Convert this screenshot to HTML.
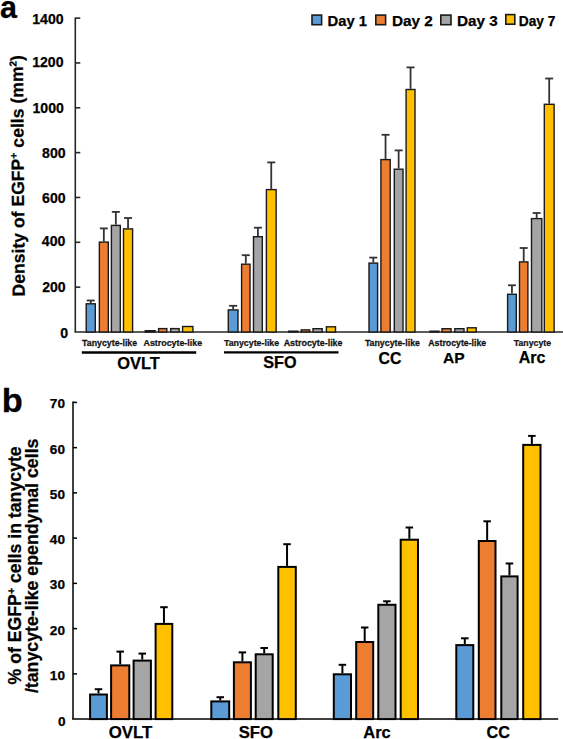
<!DOCTYPE html>
<html><head><meta charset="utf-8"><style>
html,body{margin:0;padding:0;background:#fff;}
body{width:563px;height:739px;overflow:hidden;}
svg{display:block;}
text{stroke:#000;stroke-width:0.25px;}
</style></head><body>
<svg width="563" height="739" viewBox="0 0 563 739" font-family="Liberation Sans, sans-serif">
<rect width="563" height="739" fill="#fff"/>
<line x1="75.3" y1="17.5" x2="75.3" y2="332.0" stroke="#262626" stroke-width="1.6"/>
<line x1="74.5" y1="332.0" x2="563" y2="332.0" stroke="#262626" stroke-width="1.6"/>
<line x1="75.3" y1="287.16" x2="80.3" y2="287.16" stroke="#262626" stroke-width="1.6"/>
<line x1="75.3" y1="242.31" x2="80.3" y2="242.31" stroke="#262626" stroke-width="1.6"/>
<line x1="75.3" y1="197.47" x2="80.3" y2="197.47" stroke="#262626" stroke-width="1.6"/>
<line x1="75.3" y1="152.63" x2="80.3" y2="152.63" stroke="#262626" stroke-width="1.6"/>
<line x1="75.3" y1="107.79" x2="80.3" y2="107.79" stroke="#262626" stroke-width="1.6"/>
<line x1="75.3" y1="62.94" x2="80.3" y2="62.94" stroke="#262626" stroke-width="1.6"/>
<line x1="75.3" y1="18.10" x2="80.3" y2="18.10" stroke="#262626" stroke-width="1.6"/>
<line x1="90.75" y1="303.10" x2="90.75" y2="300.50" stroke="#333" stroke-width="1.8"/>
<line x1="86.75" y1="300.50" x2="94.75" y2="300.50" stroke="#333" stroke-width="1.8"/>
<line x1="103.83" y1="241.40" x2="103.83" y2="228.40" stroke="#333" stroke-width="1.8"/>
<line x1="99.83" y1="228.40" x2="107.83" y2="228.40" stroke="#333" stroke-width="1.8"/>
<line x1="115.85" y1="224.70" x2="115.85" y2="211.90" stroke="#333" stroke-width="1.8"/>
<line x1="111.85" y1="211.90" x2="119.85" y2="211.90" stroke="#333" stroke-width="1.8"/>
<line x1="128.05" y1="228.20" x2="128.05" y2="218.00" stroke="#333" stroke-width="1.8"/>
<line x1="124.05" y1="218.00" x2="132.05" y2="218.00" stroke="#333" stroke-width="1.8"/>
<line x1="233.15" y1="309.20" x2="233.15" y2="305.80" stroke="#333" stroke-width="1.8"/>
<line x1="229.15" y1="305.80" x2="237.15" y2="305.80" stroke="#333" stroke-width="1.8"/>
<line x1="245.80" y1="263.50" x2="245.80" y2="255.20" stroke="#333" stroke-width="1.8"/>
<line x1="241.80" y1="255.20" x2="249.80" y2="255.20" stroke="#333" stroke-width="1.8"/>
<line x1="257.90" y1="236.00" x2="257.90" y2="227.70" stroke="#333" stroke-width="1.8"/>
<line x1="253.90" y1="227.70" x2="261.90" y2="227.70" stroke="#333" stroke-width="1.8"/>
<line x1="271.25" y1="188.90" x2="271.25" y2="162.40" stroke="#333" stroke-width="1.8"/>
<line x1="267.25" y1="162.40" x2="275.25" y2="162.40" stroke="#333" stroke-width="1.8"/>
<line x1="373.30" y1="262.40" x2="373.30" y2="257.60" stroke="#333" stroke-width="1.8"/>
<line x1="369.30" y1="257.60" x2="377.30" y2="257.60" stroke="#333" stroke-width="1.8"/>
<line x1="385.55" y1="158.90" x2="385.55" y2="134.80" stroke="#333" stroke-width="1.8"/>
<line x1="381.55" y1="134.80" x2="389.55" y2="134.80" stroke="#333" stroke-width="1.8"/>
<line x1="398.65" y1="168.50" x2="398.65" y2="150.40" stroke="#333" stroke-width="1.8"/>
<line x1="394.65" y1="150.40" x2="402.65" y2="150.40" stroke="#333" stroke-width="1.8"/>
<line x1="410.55" y1="88.80" x2="410.55" y2="67.40" stroke="#333" stroke-width="1.8"/>
<line x1="406.55" y1="67.40" x2="414.55" y2="67.40" stroke="#333" stroke-width="1.8"/>
<line x1="511.95" y1="293.60" x2="511.95" y2="285.30" stroke="#333" stroke-width="1.8"/>
<line x1="507.95" y1="285.30" x2="515.95" y2="285.30" stroke="#333" stroke-width="1.8"/>
<line x1="523.70" y1="261.20" x2="523.70" y2="248.00" stroke="#333" stroke-width="1.8"/>
<line x1="519.70" y1="248.00" x2="527.70" y2="248.00" stroke="#333" stroke-width="1.8"/>
<line x1="536.65" y1="217.90" x2="536.65" y2="213.00" stroke="#333" stroke-width="1.8"/>
<line x1="532.65" y1="213.00" x2="540.65" y2="213.00" stroke="#333" stroke-width="1.8"/>
<line x1="549.20" y1="103.60" x2="549.20" y2="78.50" stroke="#333" stroke-width="1.8"/>
<line x1="545.20" y1="78.50" x2="553.20" y2="78.50" stroke="#333" stroke-width="1.8"/>
<rect x="86.20" y="303.80" width="9.10" height="28.20" fill="#5B9BD5" stroke="#1a1a1a" stroke-width="1.4"/>
<rect x="99.35" y="242.10" width="8.95" height="89.90" fill="#ED7D31" stroke="#1a1a1a" stroke-width="1.4"/>
<rect x="111.40" y="225.40" width="8.90" height="106.60" fill="#A5A5A5" stroke="#1a1a1a" stroke-width="1.4"/>
<rect x="123.50" y="228.90" width="9.10" height="103.10" fill="#FFC000" stroke="#1a1a1a" stroke-width="1.4"/>
<rect x="145.30" y="330.70" width="9.80" height="1.30" fill="#5B9BD5" stroke="#1a1a1a" stroke-width="1.4"/>
<rect x="158.60" y="328.60" width="8.20" height="3.40" fill="#ED7D31" stroke="#1a1a1a" stroke-width="1.4"/>
<rect x="170.70" y="328.60" width="8.40" height="3.40" fill="#A5A5A5" stroke="#1a1a1a" stroke-width="1.4"/>
<rect x="182.60" y="326.50" width="10.30" height="5.50" fill="#FFC000" stroke="#1a1a1a" stroke-width="1.4"/>
<rect x="228.30" y="309.90" width="9.70" height="22.10" fill="#5B9BD5" stroke="#1a1a1a" stroke-width="1.4"/>
<rect x="241.60" y="264.20" width="8.40" height="67.80" fill="#ED7D31" stroke="#1a1a1a" stroke-width="1.4"/>
<rect x="253.50" y="236.70" width="8.80" height="95.30" fill="#A5A5A5" stroke="#1a1a1a" stroke-width="1.4"/>
<rect x="266.40" y="189.60" width="9.70" height="142.40" fill="#FFC000" stroke="#1a1a1a" stroke-width="1.4"/>
<rect x="288.70" y="331.20" width="9.20" height="0.80" fill="#5B9BD5" stroke="#1a1a1a" stroke-width="1.4"/>
<rect x="301.20" y="329.90" width="8.50" height="2.10" fill="#ED7D31" stroke="#1a1a1a" stroke-width="1.4"/>
<rect x="313.00" y="328.70" width="9.20" height="3.30" fill="#A5A5A5" stroke="#1a1a1a" stroke-width="1.4"/>
<rect x="326.40" y="326.80" width="9.10" height="5.20" fill="#FFC000" stroke="#1a1a1a" stroke-width="1.4"/>
<rect x="369.00" y="263.10" width="8.60" height="68.90" fill="#5B9BD5" stroke="#1a1a1a" stroke-width="1.4"/>
<rect x="380.90" y="159.60" width="9.30" height="172.40" fill="#ED7D31" stroke="#1a1a1a" stroke-width="1.4"/>
<rect x="394.30" y="169.20" width="8.70" height="162.80" fill="#A5A5A5" stroke="#1a1a1a" stroke-width="1.4"/>
<rect x="406.10" y="89.50" width="8.90" height="242.50" fill="#FFC000" stroke="#1a1a1a" stroke-width="1.4"/>
<rect x="430.00" y="331.20" width="8.90" height="0.80" fill="#5B9BD5" stroke="#1a1a1a" stroke-width="1.4"/>
<rect x="442.00" y="328.70" width="9.00" height="3.30" fill="#ED7D31" stroke="#1a1a1a" stroke-width="1.4"/>
<rect x="454.80" y="328.70" width="9.20" height="3.30" fill="#A5A5A5" stroke="#1a1a1a" stroke-width="1.4"/>
<rect x="467.30" y="327.80" width="8.90" height="4.20" fill="#FFC000" stroke="#1a1a1a" stroke-width="1.4"/>
<rect x="507.60" y="294.30" width="8.70" height="37.70" fill="#5B9BD5" stroke="#1a1a1a" stroke-width="1.4"/>
<rect x="519.50" y="261.90" width="8.40" height="70.10" fill="#ED7D31" stroke="#1a1a1a" stroke-width="1.4"/>
<rect x="531.50" y="218.60" width="10.30" height="113.40" fill="#A5A5A5" stroke="#1a1a1a" stroke-width="1.4"/>
<rect x="544.30" y="104.30" width="9.80" height="227.70" fill="#FFC000" stroke="#1a1a1a" stroke-width="1.4"/>
<g font-family="Liberation Sans" font-weight="bold">
<text x="32.23" y="23.60" font-size="14.10" fill="#000" >1400</text>
<text x="32.13" y="67.30" font-size="14.10" fill="#000" >1200</text>
<text x="32.53" y="113.20" font-size="14.10" fill="#000" >1000</text>
<text x="42.05" y="157.60" font-size="14.10" fill="#000" >800</text>
<text x="42.05" y="203.30" font-size="14.10" fill="#000" >600</text>
<text x="41.85" y="245.70" font-size="14.10" fill="#000" >400</text>
<text x="42.15" y="292.10" font-size="14.10" fill="#000" >200</text>
<text x="60.34" y="338.00" font-size="14.10" fill="#000" >0</text>
<text x="-0.11" y="18.10" font-size="30.50" fill="#000" >a</text>
<rect x="312.00" y="15.10" width="9.60" height="9.60" fill="#5B9BD5" stroke="#1a1a1a" stroke-width="1.6"/>
<rect x="375.80" y="15.10" width="9.80" height="9.60" fill="#ED7D31" stroke="#1a1a1a" stroke-width="1.6"/>
<rect x="440.80" y="15.10" width="10.20" height="9.60" fill="#A5A5A5" stroke="#1a1a1a" stroke-width="1.6"/>
<rect x="505.80" y="14.60" width="9.00" height="9.60" fill="#FFC000" stroke="#1a1a1a" stroke-width="1.6"/>
<text x="327.60" y="25.90" font-size="14.77" fill="#000" >Day 1</text>
<text x="391.97" y="25.90" font-size="15.31" fill="#000" >Day 2</text>
<text x="456.97" y="25.90" font-size="15.28" fill="#000" >Day 3</text>
<text x="518.77" y="25.90" font-size="13.72" fill="#000" >Day 7</text>
<text transform="translate(82.09,346.00) scale(0.952,1)" font-size="9.24" fill="#1a1a1a" >Tanycyte-like</text>
<text transform="translate(143.48,346.00) scale(0.961,1)" font-size="9.24" fill="#1a1a1a" >Astrocyte-like</text>
<text transform="translate(223.89,346.00) scale(0.957,1)" font-size="9.24" fill="#1a1a1a" >Tanycyte-like</text>
<text transform="translate(283.68,346.00) scale(0.964,1)" font-size="9.24" fill="#1a1a1a" >Astrocyte-like</text>
<text transform="translate(364.89,346.00) scale(0.952,1)" font-size="9.24" fill="#1a1a1a" >Tanycyte-like</text>
<text transform="translate(428.28,346.00) scale(0.948,1)" font-size="9.24" fill="#1a1a1a" >Astrocyte-like</text>
<text transform="translate(513.79,346.00) scale(0.898,1)" font-size="9.75" fill="#1a1a1a" >Tanycyte</text>
<line x1="81.8" y1="352.5" x2="196.2" y2="352.5" stroke="#000" stroke-width="2.3"/>
<line x1="224" y1="352.4" x2="338.5" y2="352.4" stroke="#000" stroke-width="2.3"/>
<text x="117.34" y="368.90" font-size="16.40" fill="#000" >OVLT</text>
<text x="263.31" y="368.20" font-size="16.19" fill="#000" >SFO</text>
<text x="378.57" y="363.50" font-size="15.83" fill="#000" >CC</text>
<text x="443.01" y="363.30" font-size="15.56" fill="#000" >AP</text>
<text x="518.70" y="363.30" font-size="16.04" fill="#000" >Arc</text>
</g>
<text transform="translate(24.8,296.5) rotate(-90.45)" font-family="Liberation Sans" font-weight="bold" font-size="17.6">Density of EGFP<tspan font-size="10.5" dy="-6.5">+</tspan><tspan dy="6.5"> cells (mm</tspan><tspan font-size="10" dy="-6.5">2</tspan><tspan dy="6.5">)</tspan></text>
<line x1="73.0" y1="401.6" x2="73.0" y2="719.1" stroke="#000" stroke-width="1.5"/>
<line x1="72.1" y1="719.1" x2="558.2" y2="719.1" stroke="#000" stroke-width="1.5"/>
<line x1="73.0" y1="673.86" x2="77.0" y2="673.86" stroke="#000" stroke-width="1.5"/>
<line x1="73.0" y1="628.61" x2="77.0" y2="628.61" stroke="#000" stroke-width="1.5"/>
<line x1="73.0" y1="583.37" x2="77.0" y2="583.37" stroke="#000" stroke-width="1.5"/>
<line x1="73.0" y1="538.13" x2="77.0" y2="538.13" stroke="#000" stroke-width="1.5"/>
<line x1="73.0" y1="492.89" x2="77.0" y2="492.89" stroke="#000" stroke-width="1.5"/>
<line x1="73.0" y1="447.64" x2="77.0" y2="447.64" stroke="#000" stroke-width="1.5"/>
<line x1="73.0" y1="402.40" x2="77.0" y2="402.40" stroke="#000" stroke-width="1.5"/>
<line x1="98.50" y1="693.50" x2="98.50" y2="689.20" stroke="#000" stroke-width="2.0"/>
<line x1="94.75" y1="689.20" x2="102.25" y2="689.20" stroke="#000" stroke-width="2.0"/>
<line x1="120.20" y1="664.40" x2="120.20" y2="651.60" stroke="#000" stroke-width="2.0"/>
<line x1="116.45" y1="651.60" x2="123.95" y2="651.60" stroke="#000" stroke-width="2.0"/>
<line x1="142.25" y1="659.60" x2="142.25" y2="653.60" stroke="#000" stroke-width="2.0"/>
<line x1="138.50" y1="653.60" x2="146.00" y2="653.60" stroke="#000" stroke-width="2.0"/>
<line x1="163.95" y1="622.90" x2="163.95" y2="607.20" stroke="#000" stroke-width="2.0"/>
<line x1="160.20" y1="607.20" x2="167.70" y2="607.20" stroke="#000" stroke-width="2.0"/>
<line x1="220.25" y1="700.40" x2="220.25" y2="697.20" stroke="#000" stroke-width="2.0"/>
<line x1="216.50" y1="697.20" x2="224.00" y2="697.20" stroke="#000" stroke-width="2.0"/>
<line x1="242.40" y1="661.30" x2="242.40" y2="652.40" stroke="#000" stroke-width="2.0"/>
<line x1="238.65" y1="652.40" x2="246.15" y2="652.40" stroke="#000" stroke-width="2.0"/>
<line x1="264.20" y1="653.30" x2="264.20" y2="648.00" stroke="#000" stroke-width="2.0"/>
<line x1="260.45" y1="648.00" x2="267.95" y2="648.00" stroke="#000" stroke-width="2.0"/>
<line x1="287.05" y1="565.90" x2="287.05" y2="544.20" stroke="#000" stroke-width="2.0"/>
<line x1="283.30" y1="544.20" x2="290.80" y2="544.20" stroke="#000" stroke-width="2.0"/>
<line x1="342.40" y1="673.30" x2="342.40" y2="664.80" stroke="#000" stroke-width="2.0"/>
<line x1="338.65" y1="664.80" x2="346.15" y2="664.80" stroke="#000" stroke-width="2.0"/>
<line x1="364.70" y1="641.00" x2="364.70" y2="627.50" stroke="#000" stroke-width="2.0"/>
<line x1="360.95" y1="627.50" x2="368.45" y2="627.50" stroke="#000" stroke-width="2.0"/>
<line x1="386.90" y1="603.80" x2="386.90" y2="601.30" stroke="#000" stroke-width="2.0"/>
<line x1="383.15" y1="601.30" x2="390.65" y2="601.30" stroke="#000" stroke-width="2.0"/>
<line x1="409.35" y1="538.70" x2="409.35" y2="527.50" stroke="#000" stroke-width="2.0"/>
<line x1="405.60" y1="527.50" x2="413.10" y2="527.50" stroke="#000" stroke-width="2.0"/>
<line x1="464.80" y1="644.10" x2="464.80" y2="638.30" stroke="#000" stroke-width="2.0"/>
<line x1="461.05" y1="638.30" x2="468.55" y2="638.30" stroke="#000" stroke-width="2.0"/>
<line x1="487.15" y1="540.00" x2="487.15" y2="521.30" stroke="#000" stroke-width="2.0"/>
<line x1="483.40" y1="521.30" x2="490.90" y2="521.30" stroke="#000" stroke-width="2.0"/>
<line x1="509.45" y1="575.40" x2="509.45" y2="563.50" stroke="#000" stroke-width="2.0"/>
<line x1="505.70" y1="563.50" x2="513.20" y2="563.50" stroke="#000" stroke-width="2.0"/>
<line x1="531.85" y1="443.90" x2="531.85" y2="435.90" stroke="#000" stroke-width="2.0"/>
<line x1="528.10" y1="435.90" x2="535.60" y2="435.90" stroke="#000" stroke-width="2.0"/>
<rect x="90.10" y="694.50" width="16.80" height="24.60" fill="#5B9BD5" stroke="#000" stroke-width="2.0"/>
<rect x="111.10" y="665.40" width="18.20" height="53.70" fill="#ED7D31" stroke="#000" stroke-width="2.0"/>
<rect x="133.60" y="660.60" width="17.30" height="58.50" fill="#A5A5A5" stroke="#000" stroke-width="2.0"/>
<rect x="155.60" y="623.90" width="16.70" height="95.20" fill="#FFC000" stroke="#000" stroke-width="2.0"/>
<rect x="211.30" y="701.40" width="17.90" height="17.70" fill="#5B9BD5" stroke="#000" stroke-width="2.0"/>
<rect x="233.90" y="662.30" width="17.00" height="56.80" fill="#ED7D31" stroke="#000" stroke-width="2.0"/>
<rect x="255.70" y="654.30" width="17.00" height="64.80" fill="#A5A5A5" stroke="#000" stroke-width="2.0"/>
<rect x="278.30" y="566.90" width="17.50" height="152.20" fill="#FFC000" stroke="#000" stroke-width="2.0"/>
<rect x="333.80" y="674.30" width="17.20" height="44.80" fill="#5B9BD5" stroke="#000" stroke-width="2.0"/>
<rect x="356.20" y="642.00" width="17.00" height="77.10" fill="#ED7D31" stroke="#000" stroke-width="2.0"/>
<rect x="378.30" y="604.80" width="17.20" height="114.30" fill="#A5A5A5" stroke="#000" stroke-width="2.0"/>
<rect x="400.70" y="539.70" width="17.30" height="179.40" fill="#FFC000" stroke="#000" stroke-width="2.0"/>
<rect x="456.30" y="645.10" width="17.00" height="74.00" fill="#5B9BD5" stroke="#000" stroke-width="2.0"/>
<rect x="478.80" y="541.00" width="16.70" height="178.10" fill="#ED7D31" stroke="#000" stroke-width="2.0"/>
<rect x="501.30" y="576.40" width="16.30" height="142.70" fill="#A5A5A5" stroke="#000" stroke-width="2.0"/>
<rect x="523.20" y="444.90" width="17.30" height="274.20" fill="#FFC000" stroke="#000" stroke-width="2.0"/>
<g font-family="Liberation Sans" font-weight="bold">
<text transform="translate(1.66,412.00) scale(1.024,1)" font-size="33.66" fill="#000" >b</text>
<text x="49.85" y="679.91" font-size="13.60" fill="#000" >10</text>
<text x="49.85" y="634.66" font-size="13.60" fill="#000" >20</text>
<text x="49.85" y="589.42" font-size="13.60" fill="#000" >30</text>
<text x="49.85" y="544.18" font-size="13.60" fill="#000" >40</text>
<text x="49.85" y="498.94" font-size="13.60" fill="#000" >50</text>
<text x="49.85" y="453.69" font-size="13.60" fill="#000" >60</text>
<text x="49.85" y="408.45" font-size="13.60" fill="#000" >70</text>
<text x="58.00" y="725.70" font-size="13.60" fill="#000" >0</text>
<text x="108.73" y="737.90" font-size="16.83" fill="#000" >OVLT</text>
<text x="238.70" y="737.90" font-size="16.65" fill="#000" >SFO</text>
<text x="363.29" y="737.90" font-size="16.47" fill="#000" >Arc</text>
<text x="486.45" y="737.90" font-size="16.19" fill="#000" >CC</text>
</g>
<text transform="translate(21.3,684.5) rotate(-90)" font-family="Liberation Sans" font-weight="bold" font-size="17.7">% of EGFP<tspan font-size="10.5" dy="-6.5">+</tspan><tspan dy="6.5"> cells in tanycyte</tspan></text>
<text transform="translate(38.3,693.1) rotate(-90)" font-family="Liberation Sans" font-weight="bold" font-size="17.75">/tanycyte-like ependymal cells</text>
</svg>
</body></html>
